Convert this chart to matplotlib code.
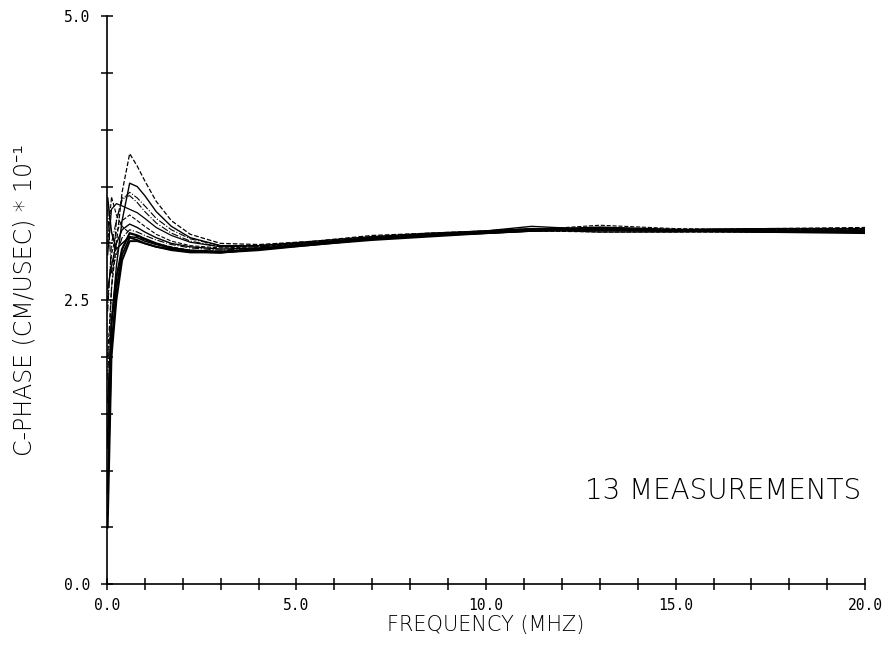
import matplotlib
matplotlib.use("Agg")
import matplotlib.pyplot as plt
from matplotlib.ticker import MultipleLocator

# frequency grid (MHz) shared by all 13 measurements
freq = [0.02, 0.12, 0.25, 0.4, 0.6, 0.8, 1.0, 1.3, 1.7, 2.2, 3.0, 4.0,
        5.5, 7.0, 8.5, 10.0, 11.2, 13.0, 15.0, 17.5, 20.0]

# phase velocity (cm/usec * 10^-1)
m1 = [2.0, 2.6, 3.0, 3.45, 3.79, 3.68, 3.55, 3.37, 3.2, 3.08, 3.0, 2.99, 3.02, 3.07, 3.09, 3.11, 3.13, 3.13, 3.12, 3.13, 3.14]
m2 = [1.6, 2.3, 2.8, 3.2, 3.53, 3.5, 3.42, 3.28, 3.15, 3.05, 2.98, 2.98, 3.02, 3.06, 3.09, 3.11, 3.15, 3.12, 3.12, 3.13, 3.13]
m3 = [2.4, 3.0, 3.2, 3.38, 3.45, 3.4, 3.33, 3.22, 3.12, 3.04, 2.98, 2.98, 3.01, 3.05, 3.08, 3.1, 3.13, 3.11, 3.11, 3.12, 3.12]
m4 = [2.9, 3.3, 3.35, 3.33, 3.3, 3.27, 3.22, 3.14, 3.07, 3.01, 2.97, 2.98, 3.01, 3.05, 3.08, 3.1, 3.12, 3.1, 3.1, 3.11, 3.11]
m5 = [3.0, 3.41, 3.25, 3.15, 3.09, 3.06, 3.03, 3.0, 2.97, 2.94, 2.93, 2.95, 2.99, 3.04, 3.07, 3.09, 3.11, 3.1, 3.1, 3.1, 3.1]
m6 = [1.2, 2.3, 2.7, 2.95, 3.09, 3.07, 3.04, 3.0, 2.96, 2.93, 2.92, 2.95, 2.99, 3.04, 3.07, 3.1, 3.12, 3.14, 3.12, 3.11, 3.11]
m7 = [0.8, 2.1, 2.6, 2.9, 3.05, 3.03, 3.0, 2.97, 2.94, 2.92, 2.92, 2.95, 3.0, 3.04, 3.07, 3.09, 3.11, 3.12, 3.11, 3.1, 3.09]
m8 = [3.3, 2.74, 2.9, 3.05, 3.12, 3.1, 3.07, 3.03, 2.99, 2.96, 2.94, 2.96, 3.0, 3.05, 3.08, 3.1, 3.12, 3.13, 3.12, 3.12, 3.12]
m9 = [2.5, 2.9, 3.1, 3.2, 3.25, 3.2, 3.15, 3.08, 3.02, 2.98, 2.96, 2.97, 3.01, 3.05, 3.08, 3.1, 3.12, 3.16, 3.13, 3.12, 3.13]
m10 = [2.6, 2.8, 3.0, 3.12, 3.17, 3.14, 3.1, 3.05, 3.0, 2.97, 2.95, 2.96, 3.0, 3.05, 3.08, 3.11, 3.13, 3.12, 3.12, 3.13, 3.13]
m11 = [1.8, 2.6, 3.2, 3.4, 3.42, 3.36, 3.28, 3.18, 3.09, 3.02, 2.97, 2.97, 3.0, 3.04, 3.08, 3.1, 3.12, 3.11, 3.11, 3.12, 3.12]
m12 = [3.4, 3.1, 2.95, 3.0, 3.06, 3.05, 3.02, 2.99, 2.96, 2.94, 2.93, 2.95, 3.0, 3.04, 3.07, 3.09, 3.11, 3.13, 3.12, 3.11, 3.11]
m13 = [0.5, 2.0, 2.5, 2.85, 3.02, 3.02, 3.0, 2.97, 2.95, 2.93, 2.92, 2.94, 2.99, 3.03, 3.06, 3.09, 3.11, 3.12, 3.11, 3.1, 3.1]

measurements = [m1, m2, m3, m4, m5, m6, m7, m8, m9, m10, m11, m12, m13]
styles = ["--", "-", "-.", "-", "--", "-", "-", "-.", "--", "-", "-.", "-", "-"]
widths = [0.9, 1.0, 0.8, 0.9, 0.8, 1.6, 1.3, 0.8, 0.8, 1.0, 0.8, 1.1, 1.4]

xtick_labels = ["0.0", "5.0", "10.0", "15.0", "20.0"]
ytick_labels = ["0.0", "2.5", "5.0"]

fig = plt.figure(figsize=(8.91, 6.47), dpi=100)
ax = fig.add_axes([0.120, 0.097, 0.851, 0.878])

for vals, ls, lw in zip(measurements, styles, widths):
    ax.plot(freq, vals, color="black", linestyle=ls, linewidth=lw)

ax.set_xlim(0, 20)
ax.set_ylim(0, 5)
for s in ["top", "right"]:
    ax.spines[s].set_visible(False)
ax.spines["left"].set_linewidth(1.2)
ax.spines["bottom"].set_linewidth(1.2)

ax.set_xticks([0, 5, 10, 15, 20])
ax.set_xticklabels(xtick_labels)
ax.set_yticks([0, 2.5, 5])
ax.set_yticklabels(ytick_labels)
ax.xaxis.set_minor_locator(MultipleLocator(1))
ax.yaxis.set_minor_locator(MultipleLocator(0.5))
ax.tick_params(which="both", direction="inout", length=8, width=1.1, color="black")
ax.tick_params(axis="x", pad=6)
ax.tick_params(axis="y", pad=8)
for lab in ax.get_xticklabels() + ax.get_yticklabels():
    lab.set_fontfamily("DejaVu Sans Mono")
    lab.set_fontsize(10.5)

fam = ["DejaVu Sans", "Noto Sans"]
ax.set_xlabel("FREQUENCY (MHZ)", fontsize=15, fontweight="light", family=fam, labelpad=1)
ax.set_ylabel("C-PHASE (CM/USEC) * 10\u207b\u00b9", fontsize=17, fontweight="light",
              family=fam, labelpad=20)

ax.text(19.9, 0.7, "13 MEASUREMENTS", fontsize=20, fontweight="light", family=fam,
        ha="right", va="bottom")

fig.savefig("out.png", dpi=100)
